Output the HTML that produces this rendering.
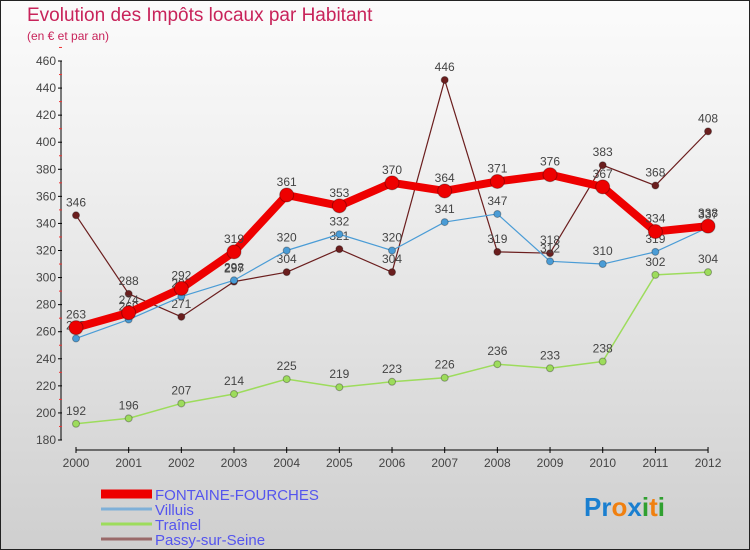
<!DOCTYPE html>
<html><head><meta charset="utf-8"><style>
body{margin:0}
#c{position:relative;width:748px;height:548px;border:1px solid #222;background:linear-gradient(#fbfbfb,#f0f0f0 30%,#cfcfcf);font-family:"Liberation Sans",sans-serif;overflow:hidden}
.t{position:absolute;left:26px;top:4px;font-size:19px;color:#c8235a}
.s{position:absolute;left:26px;top:28px;font-size:12px;color:#c8235a}
</style></head><body>
<div id="c">
<div class="t">Evolution des Impôts locaux par Habitant</div>
<div class="s">(en € et par an)</div>
<svg id="g" width="748" height="548" style="position:absolute;left:0;top:0"></svg>
</div>
<script>
const years=[2000,2001,2002,2003,2004,2005,2006,2007,2008,2009,2010,2011,2012];
const yTicks=[180,200,220,240,260,280,300,320,340,360,380,400,420,440,460];
const fontaine=[263,274,292,319,361,353,370,364,371,376,367,334,338];
const villuis=[255,269,286,298,320,332,320,341,347,312,310,319,337];
const trainel=[192,196,207,214,225,219,223,226,236,233,238,302,304];
const passy=[346,288,271,297,304,321,304,446,319,318,383,368,408];
const names=["FONTAINE-FOURCHES","Villuis","Traînel","Passy-sur-Seine"];
const NS="http://www.w3.org/2000/svg",svg=document.getElementById('g');
const x=i=>75+i*52.67, y=v=>439-(v-180)*(379/280);
function mk(t,a,p){const e=document.createElementNS(NS,t);for(const k in a)e.setAttribute(k,a[k]);(p||svg).appendChild(e);return e;}
let ax=mk('line',{x1:60,y1:y(460),x2:60,y2:y(180),stroke:'#000'});

let bx=mk('line',{x1:x(0),y1:449,x2:x(12),y2:449,stroke:'#000'});

yTicks.forEach(v=>{mk('line',{x1:57,x2:61,y1:y(v),y2:y(v),stroke:'#000'});
 mk('line',{x1:58,x2:61,y1:y(v+10),y2:y(v+10),stroke:'#e33'});
 const t=mk('text',{x:55,y:y(v)+4,'text-anchor':'end','font-size':12,fill:'#444'});t.textContent=v;
 });
years.forEach((yr,i)=>{mk('line',{x1:x(i),x2:x(i),y1:446,y2:452,stroke:'#000'});
 const t=mk('text',{x:x(i),y:466,'text-anchor':'middle','font-size':12,fill:'#444'});t.textContent=yr;
 });
function series(d,col,w,r,lab,name){
 const g=mk('g',{});
 mk('polyline',{points:d.map((v,i)=>x(i)+','+y(v)).join(' '),fill:'none',stroke:col,'stroke-width':w,'stroke-linejoin':'round'},g);
 d.forEach((v,i)=>{const c=mk('circle',{cx:x(i),cy:y(v),r:r,fill:col,stroke:'rgba(0,0,0,0.3)'},g);
  
  const t=mk('text',{x:x(i),y:y(v)-9,'text-anchor':'middle','font-size':12,fill:'#444'},g);t.textContent=v;});
}
series(trainel,'#9ddc5c',1.5,3.5,1,'series-trainel');
series(passy,'#6b1e1e',1.2,3.5,1,'series-passy');
series(villuis,'#4a9cd6',1.2,3.5,1,'series-villuis');
series(fontaine,'#ee0000',8,7,1,'series-fontaine');
const lc=['#ee0000','#7fb0d8','#9ddc5c','#9a6a6a'],lw=[9,3,3,3];
names.forEach((n,i)=>{const ly=493+i*15;
 const g=mk('g',{});
 mk('line',{x1:100,x2:151,y1:ly,y2:ly,stroke:lc[i],'stroke-width':lw[i]},g);
 const t=mk('text',{x:154,y:ly+6,'font-size':15,fill:'#5555ee'},g);t.textContent=n;});
const lg=mk('text',{x:583,y:515,'font-size':26,'font-weight':'bold'});

[['Pr','#1a7fd0'],['o','#f08010'],['x','#1a7fd0'],['i','#30a030'],['t','#f08010'],['i','#30a030']].forEach(([s,c])=>{mk('tspan',{fill:c},lg).textContent=s;});
</script>
</body></html>
